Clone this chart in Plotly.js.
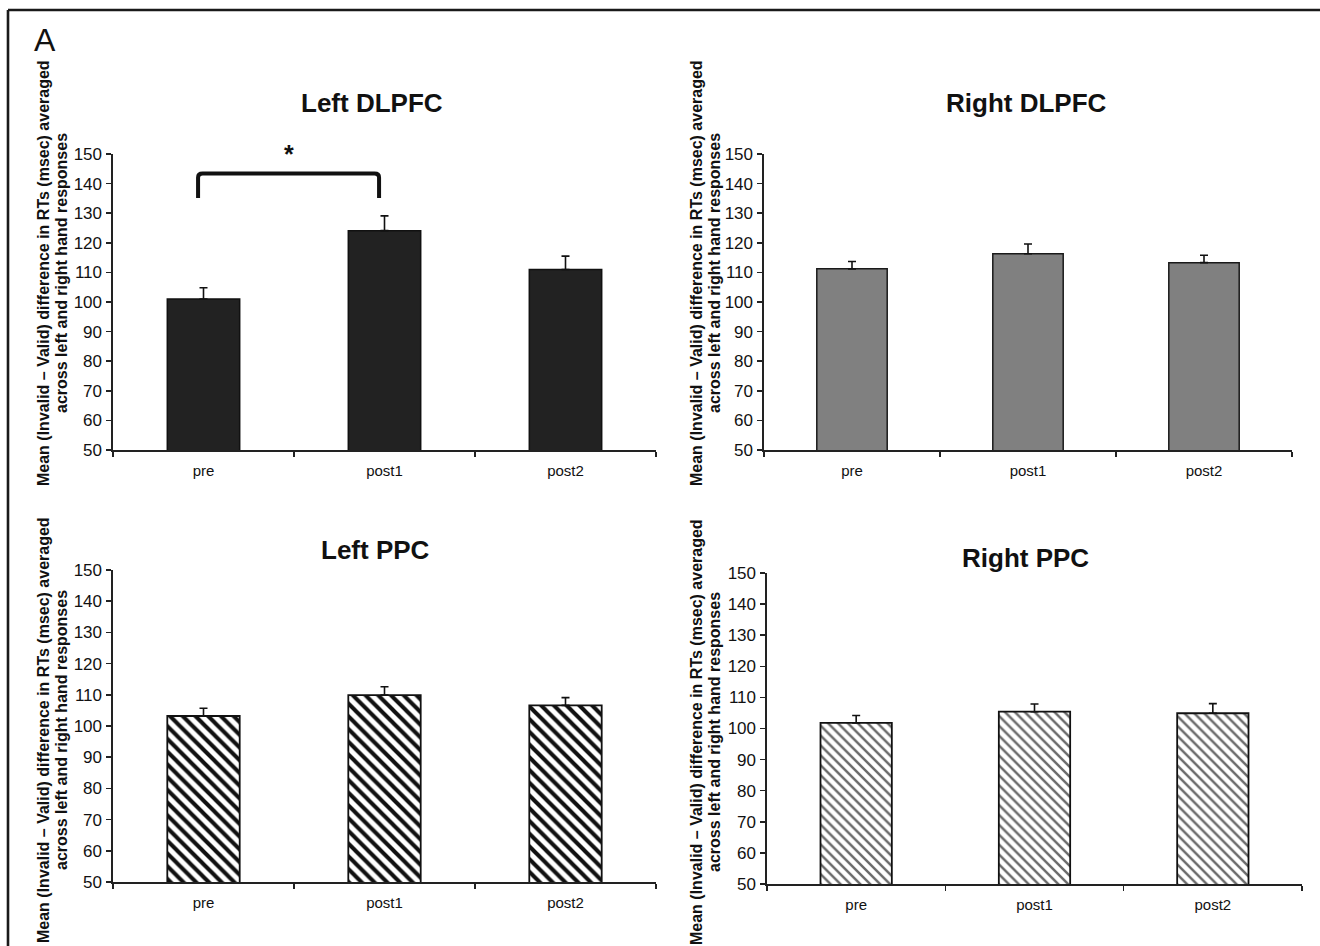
<!DOCTYPE html>
<html>
<head>
<meta charset="utf-8">
<script src="https://cdn.plot.ly/plotly-3.0.1.min.js"></script>
<style>
  html, body { margin: 0; padding: 0; background: #ffffff; }
  #chart { width: 1320px; height: 946px; }
</style>
</head>
<body>
<div id="chart"></div>
<script>
// ---- data ----
const categories = ['pre', 'post1', 'post2'];
const panelTitles = ['Left DLPFC', 'Right DLPFC', 'Left PPC', 'Right PPC'];

const leftDLPFC = [101.0, 124.1, 111.0];
const leftDLPFCErr = [3.8, 5.0, 4.5];
const rightDLPFC = [111.2, 116.3, 113.3];
const rightDLPFCErr = [2.5, 3.3, 2.5];
const leftPPC = [103.2, 109.9, 106.6];
const leftPPCErr = [2.5, 2.7, 2.5];
const rightPPC = [101.8, 105.4, 104.9];
const rightPPCErr = [2.4, 2.5, 3.1];

const yTickVals = [50, 60, 70, 80, 90, 100, 110, 120, 130, 140, 150];
const yRange = [50, 150];

const yTitleLine1 = 'Mean (Invalid \u2013 Valid) difference in RTs (msec) averaged';
const yTitleLine2 = 'across left and right hand responses';
const panelLetter = 'A';

// significance bracket (pre vs post1, Left DLPFC)
const sigFrom = 'pre', sigTo = 'post1';
const sigLevel = 143.4, sigDrop = 135.1, sigLabel = '*';

// ---- figure ----
const W = 1320, H = 946;
const px = v => v / W;
const py = v => 1 - v / H;
const FONT = 'Liberation Sans, Arial, sans-serif';

function errBar(arr) {
  return { type: 'data', symmetric: false, array: arr, arrayminus: arr.map(() => 0),
           color: '#111', thickness: 1.6, width: 4 };
}

const traces = [
  { type: 'bar', x: categories, y: leftDLPFC, width: 0.4, xaxis: 'x', yaxis: 'y',
    marker: { color: '#222222', line: { color: '#111', width: 1.5 } },
    error_y: errBar(leftDLPFCErr) },
  { type: 'bar', x: categories, y: rightDLPFC, width: 0.4, xaxis: 'x2', yaxis: 'y2',
    marker: { color: '#808080', line: { color: '#1a1a1a', width: 1.5 } },
    error_y: errBar(rightDLPFCErr) },
  { type: 'bar', x: categories, y: leftPPC, width: 0.4, xaxis: 'x3', yaxis: 'y3',
    marker: { color: '#ffffff', line: { color: '#111', width: 1.8 },
              pattern: { shape: '\\', fgcolor: '#111', bgcolor: '#ffffff', size: 9, solidity: 0.45 } },
    error_y: errBar(leftPPCErr) },
  { type: 'bar', x: categories, y: rightPPC, width: 0.4, xaxis: 'x4', yaxis: 'y4',
    marker: { color: '#ffffff', line: { color: '#111', width: 1.8 },
              pattern: { shape: '\\', fgcolor: '#6a6a6a', bgcolor: '#ffffff', size: 7, solidity: 0.35 } },
    error_y: errBar(rightPPCErr) }
];

function xAx(d0, d1, anchor) {
  return { domain: [px(d0), px(d1)], anchor: anchor, type: 'category', range: [-0.5, 2.5],
           showline: true, linecolor: '#222', linewidth: 1.6, ticks: 'outside', tickson: 'boundaries',
           ticklen: 5, tickcolor: '#222', tickwidth: 1.5, showgrid: false, zeroline: false,
           ticklabelstandoff: 6,
           tickfont: { family: FONT, size: 15, color: '#111' }, fixedrange: true };
}
function yAx(top, bottom, anchor) {
  return { domain: [py(bottom), py(top)], anchor: anchor, range: yRange, tickvals: yTickVals,
           showline: true, linecolor: '#222', linewidth: 1.6, ticks: 'outside', ticklen: 5,
           tickcolor: '#222', tickwidth: 1.5, showgrid: false, zeroline: false,
           ticklabelstandoff: 1,
           tickfont: { family: FONT, size: 17, color: '#111' }, fixedrange: true };
}

const titlePos = [[372, 103], [1026, 103], [375, 550], [1025, 558]];
const yTitlePos = [[43, 61, 273], [696, 714, 273], [43, 61, 730], [696, 714, 732]];

const annotations = [];
panelTitles.forEach((t, i) => {
  annotations.push({ xref: 'paper', yref: 'paper', x: px(titlePos[i][0]), y: py(titlePos[i][1]),
    text: '<b>' + t + '</b>', showarrow: false, xanchor: 'center', yanchor: 'middle',
    font: { family: FONT, size: 26, color: '#111' } });
  const p = yTitlePos[i];
  annotations.push({ xref: 'paper', yref: 'paper', x: px(p[0]), y: py(p[2]), text: '<b>' + yTitleLine1 + '</b>',
    showarrow: false, textangle: -90, xanchor: 'center', yanchor: 'middle',
    font: { family: FONT, size: 16, color: '#111' } });
  annotations.push({ xref: 'paper', yref: 'paper', x: px(p[1]), y: py(p[2]), text: '<b>' + yTitleLine2 + '</b>',
    showarrow: false, textangle: -90, xanchor: 'center', yanchor: 'middle',
    font: { family: FONT, size: 16, color: '#111' } });
});
annotations.push({ xref: 'paper', yref: 'paper', x: px(45), y: py(40), text: panelLetter, showarrow: false,
  xanchor: 'center', yanchor: 'middle', font: { family: FONT, size: 32, color: '#111' } });

const i0 = categories.indexOf(sigFrom) - 0.03, i1 = categories.indexOf(sigTo) - 0.03;
annotations.push({ xref: 'x', yref: 'y', x: (i0 + i1) / 2, y: sigLevel + 6.5, text: '<b>' + sigLabel + '</b>',
  showarrow: false, xanchor: 'center', yanchor: 'middle', font: { family: FONT, size: 25, color: '#111' } });

const rx = 0.025, ry = 1.3;
const shapes = [
  // figure frame (top and left edges)
  { type: 'line', xref: 'paper', yref: 'paper', x0: px(8), x1: 1, y0: py(10), y1: py(10),
    line: { color: '#1a1a1a', width: 2.6 } },
  { type: 'line', xref: 'paper', yref: 'paper', x0: px(8), x1: px(8), y0: py(10), y1: 0,
    line: { color: '#1a1a1a', width: 2.6 } },
  // significance bracket with rounded corners
  { type: 'path', xref: 'x', yref: 'y',
    path: `M ${i0},${sigDrop} L ${i0},${sigLevel - ry} Q ${i0},${sigLevel} ${i0 + rx},${sigLevel} ` +
          `L ${i1 - rx},${sigLevel} Q ${i1},${sigLevel} ${i1},${sigLevel - ry} L ${i1},${sigDrop}`,
    line: { color: '#111', width: 4 } }
];

const layout = {
  width: W, height: H, margin: { l: 0, r: 0, t: 0, b: 0, pad: 0 },
  paper_bgcolor: '#ffffff', plot_bgcolor: '#ffffff', showlegend: false,
  font: { family: FONT, color: '#111' },
  xaxis: xAx(113, 656, 'y'), yaxis: yAx(154, 450, 'x'),
  xaxis2: xAx(764, 1292, 'y2'), yaxis2: yAx(154, 450, 'x2'),
  xaxis3: xAx(113, 656, 'y3'), yaxis3: yAx(570, 882, 'x3'),
  xaxis4: xAx(767, 1302, 'y4'), yaxis4: yAx(573, 884, 'x4'),
  annotations: annotations, shapes: shapes, bargap: 0.6
};

Plotly.newPlot('chart', traces, layout, { staticPlot: true, displayModeBar: false });
</script>
</body>
</html>
